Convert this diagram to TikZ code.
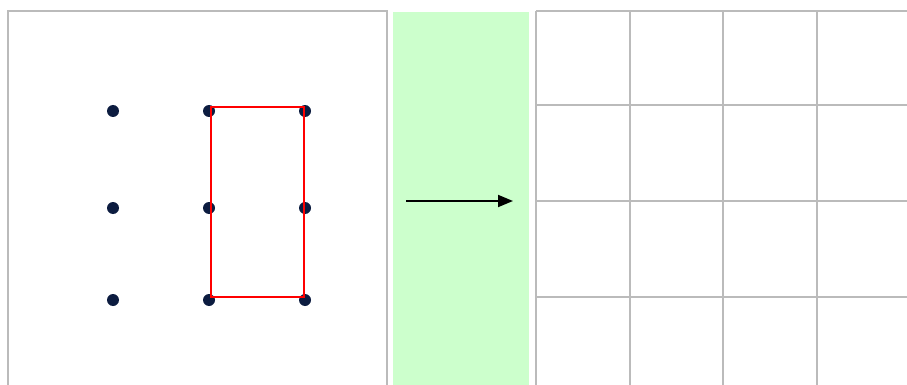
\documentclass[tikz,border=0pt]{standalone}
\usetikzlibrary{arrows.meta}
\definecolor{dotblue}{RGB}{12,28,64}
\definecolor{panelgray}{RGB}{187,187,187}
\definecolor{bandgreen}{RGB}{204,255,204}
\begin{document}
\begin{tikzpicture}[x=1pt, y=-1pt,
    panel/.style={draw=panelgray, line width=2pt},
    dot/.style={circle, fill=dotblue, inner sep=0pt, minimum size=12pt},
    pick/.style={draw=red, line width=1.8pt}]
    \useasboundingbox (0,0) rectangle (907,385);
    \clip (0,0) rectangle (907,385);
    % Panels
    \draw [panel] (8,11) rectangle (387,400);
    \fill [bandgreen] (393,12) rectangle (529,400);
    % Points
    \foreach \i/\x in {1/113, 2/209, 3/305}
        \foreach \j/\y in {1/111, 2/208, 3/300}
            \node (p\i\j) [dot] at (\x,\y) {};
    % Selection
    \coordinate (selA) at (211,107);
    \coordinate (selB) at (304,297);
    \draw [pick] (selA) rectangle (selB);
    % Arrow
    \coordinate (from) at (406,201);
    \coordinate (to) at (513,201);
    \draw [-{Triangle[length=15pt, width=12pt]}, line width=1.8pt] (from) -- (to);
    % Grid
    \foreach \x in {536, 629.5, 723, 817}
        \draw [panel] (\x,11) -- (\x,400);
    \foreach \y in {11, 105, 201, 297}
        \draw [panel] (536,\y) -- (910,\y);
\end{tikzpicture}
\end{document}
